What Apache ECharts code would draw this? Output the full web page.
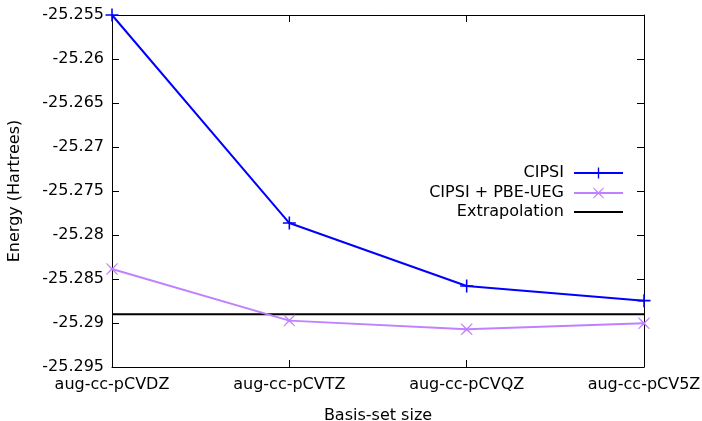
<!DOCTYPE html>
<html><head><meta charset="utf-8">
<script src="https://cdn.jsdelivr.net/npm/echarts@6/dist/echarts.min.js"></script>
<style>html,body{margin:0;padding:0;background:#fff}#c{width:702px;height:421px}</style>
</head><body><div id="c"></div>
<script>
var categories = ['aug-cc-pCVDZ','aug-cc-pCVTZ','aug-cc-pCVQZ','aug-cc-pCV5Z'];
var cipsi = [-25.2550, -25.27864, -25.2858, -25.28746];
var cipsiPbe = [-25.28386, -25.28973, -25.29072, -25.29004];
var extrapolation = -25.28901;
var extrapData = categories.map(function(){ return extrapolation; });

var FONT = 'DejaVu Sans';
var FS = 16;
var plusPath = 'path://M0,4.4H10V5.6H0Z M4.4,0H5.6V10H4.4Z';
var crossPath = 'path://M0.6,0L5,4.1L9.4,0L10,0.6L5.9,5L10,9.4L9.4,10L5,5.9L0.6,10L0,9.4L4.1,5L0,0.6Z';
var BLUE = '#0000ff', VIOLET = '#c080ff';

var chart = echarts.init(document.getElementById('c'));
function fmt(v){ return String(parseFloat(v.toFixed(4))); }
var legendBase = {
  orient:'vertical', right:73, align:'right', itemWidth:49, itemHeight:14,
  textStyle:{fontFamily:FONT, fontSize:FS, color:'#000'},
  formatter:function(n){ return n + ' '; },
  selectedMode:false
};
chart.setOption({
  animation:false,
  backgroundColor:'#fff',
  grid:{left:112, right:58, top:15, bottom:54, containLabel:false, outerBoundsMode:'none'},
  legend:[
    Object.assign({}, legendBase, {top:160, data:['CIPSI']}),
    Object.assign({}, legendBase, {top:180, data:['CIPSI + PBE-UEG']}),
    Object.assign({}, legendBase, {top:199, data:['Extrapolation']})
  ],
  xAxis:[{
    type:'category', data:categories, boundaryGap:false,
    name:'Basis-set size', nameLocation:'middle', nameGap:41,
    nameTextStyle:{fontFamily:FONT, fontSize:FS, color:'#000'},
    axisLine:{lineStyle:{color:'#000', width:1}},
    axisTick:{inside:true, length:7, lineStyle:{color:'#000'}},
    axisLabel:{fontFamily:FONT, fontSize:FS, color:'#000', margin:10},
    splitLine:{show:false}
  },{
    type:'category', data:categories, boundaryGap:false, position:'top',
    axisLine:{lineStyle:{color:'#000', width:1}},
    axisTick:{inside:true, length:7, lineStyle:{color:'#000'}},
    axisLabel:{show:false}, splitLine:{show:false}
  }],
  yAxis:[{
    type:'value', min:-25.295, max:-25.255, interval:0.005,
    name:'Energy (Hartrees)', nameLocation:'middle', nameGap:89, nameRotate:90,
    nameTextStyle:{fontFamily:FONT, fontSize:FS, color:'#000'},
    axisLine:{show:true, lineStyle:{color:'#000', width:1}},
    axisTick:{show:true, inside:true, length:7, lineStyle:{color:'#000'}},
    axisLabel:{fontFamily:FONT, fontSize:FS, color:'#000', margin:8, formatter:fmt},
    splitLine:{show:false}
  },{
    type:'value', min:-25.295, max:-25.255, interval:0.005, position:'right',
    axisLine:{show:true, lineStyle:{color:'#000', width:1}},
    axisTick:{show:true, inside:true, length:7, lineStyle:{color:'#000'}},
    axisLabel:{show:false}, splitLine:{show:false}
  }],
  series:[{
    name:'CIPSI', type:'line', data:cipsi,
    symbol:plusPath, symbolSize:13, showAllSymbol:true,
    lineStyle:{color:BLUE, width:2}, itemStyle:{color:BLUE}, z:4
  },{
    name:'CIPSI + PBE-UEG', type:'line', data:cipsiPbe,
    symbol:crossPath, symbolSize:12, showAllSymbol:true,
    lineStyle:{color:VIOLET, width:2}, itemStyle:{color:VIOLET}, z:3
  },{
    name:'Extrapolation', type:'line', data:extrapData,
    symbol:'circle', showSymbol:false,
    lineStyle:{color:'#000', width:2}, itemStyle:{color:'#000', opacity:0}, z:2
  }]
});
</script></body></html>
